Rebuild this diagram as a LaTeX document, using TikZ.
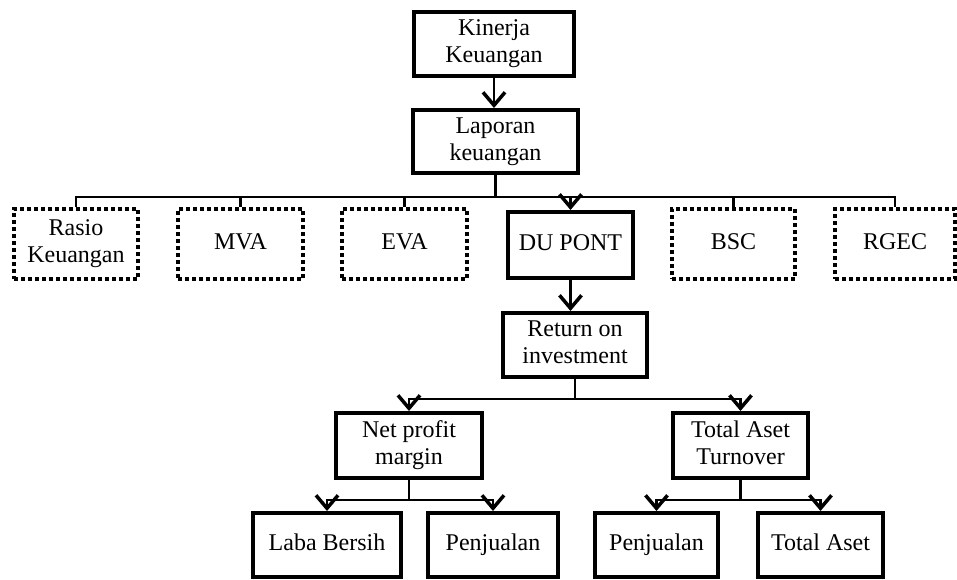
\documentclass[tikz,border=0pt]{standalone}
\usepackage{fontspec}
\setmainfont{Liberation Serif}
\usetikzlibrary{arrows.meta}
\newcommand\boxline[1]{\strut #1}
\begin{document}
\begin{tikzpicture}[x=1pt,y=-1pt,
  box/.style={draw, line width=4pt, inner sep=0pt, align=center,
    font=\fontsize{24}{27}\selectfont},
  dotbox/.style={box, dash pattern=on 4pt off 3pt},
  link/.style={line width=2.8pt},
  arr/.style={link, -{Straight Barb[length=13pt,width=22pt,line width=3.5pt]}}]
\useasboundingbox[fill=white] (0,0) rectangle (957,579);
% top chain
\node[box, minimum width=160pt, minimum height=64pt] (kin) at (494,44) {\boxline{Kinerja}\\\boxline{Keuangan}};
\node[box, minimum width=165pt, minimum height=63pt] (lap) at (495.5,141.5) {\boxline{Laporan}\\\boxline{keuangan}};
% methods row
\node[dotbox, minimum width=124pt, minimum height=70pt] (rasio) at (76,244) {\boxline{Rasio}\\\boxline{Keuangan}};
\node[dotbox, minimum width=125pt, minimum height=70pt] (mva) at (240.5,244) {\boxline{MVA}};
\node[dotbox, minimum width=125pt, minimum height=70pt] (eva) at (404.5,244) {\boxline{EVA}};
\node[box, minimum width=125pt, minimum height=66pt] (dupont) at (570.5,245) {\boxline{DU PONT}};
\node[dotbox, minimum width=123pt, minimum height=70pt] (bsc) at (733.5,244) {\boxline{BSC}};
\node[dotbox, minimum width=120pt, minimum height=70pt] (rgec) at (895,244) {\boxline{RGEC}};
% DuPont tree
\node[box, minimum width=144pt, minimum height=64pt] (roi) at (575,345) {\boxline{Return on}\\\boxline{investment}};
\node[box, minimum width=146pt, minimum height=65pt] (npm) at (409,445.5) {\boxline{Net profit}\\\boxline{margin}};
\node[box, minimum width=135pt, minimum height=65pt] (tat) at (740.5,445.5) {\boxline{Total Aset}\\\boxline{Turnover}};
\node[box, minimum width=148pt, minimum height=64pt] (laba) at (327,545) {\boxline{Laba Bersih}};
\node[box, minimum width=130pt, minimum height=64pt] (pj1) at (493,545) {\boxline{Penjualan}};
\node[box, minimum width=123pt, minimum height=64pt] (pj2) at (656.5,545) {\boxline{Penjualan}};
\node[box, minimum width=125pt, minimum height=64pt] (ta) at (820.5,545) {\boxline{Total Aset}};
% bus coordinates
\coordinate (bus) at (0,197);
\coordinate (bus2) at (0,399);
\coordinate (bus3) at (0,500);
% connectors
\draw[arr] (kin.south) -- (kin.south |- lap.north);
\draw[link] (lap.south) -- (lap.south |- bus);
\draw[link] (rasio.north) -- (rasio.north |- bus) -- (rgec.north |- bus) -- (rgec.north);
\draw[link] (mva.north |- bus) -- (mva.north);
\draw[link] (eva.north |- bus) -- (eva.north);
\draw[link] (bsc.north |- bus) -- (bsc.north);
\draw[arr] (dupont.north |- bus) -- (dupont.north);
\draw[arr] (dupont.south) -- (dupont.south |- roi.north);
\draw[arr] (roi.south) -- (roi.south |- bus2) -| (npm.north);
\draw[arr] (roi.south |- bus2) -| (tat.north);
\draw[arr] (npm.south) -- (npm.south |- bus3) -| (laba.north);
\draw[arr] (npm.south |- bus3) -| (pj1.north);
\draw[arr] (tat.south) -- (tat.south |- bus3) -| (pj2.north);
\draw[arr] (tat.south |- bus3) -| (ta.north);
\end{tikzpicture}
\end{document}
